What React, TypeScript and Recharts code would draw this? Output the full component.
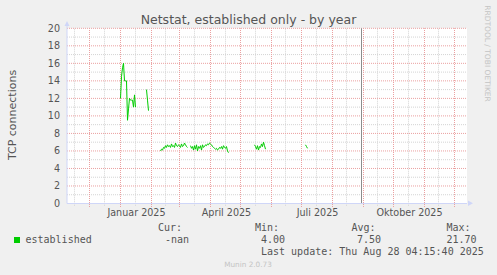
import React from 'react';
import { LineChart, Line, XAxis, YAxis, CartesianGrid, ReferenceLine } from 'recharts';

// daily "established" connection counts, one array per run of data (gaps = no data)
const seg1Start = '2025-01-01';
const seg1Values = [12, 14.5, 15.5, 16, 14, 14, 14, 9.5, 10.8, 12, 11.8, 11.8, 11.8, 11, 12.4, 11];
const seg2Start = '2025-01-27';
const seg2Values = [13, 11.8, 10.6];
const seg3Start = '2025-02-10';
const seg3Values = [
  6.0, 6.2, 6.1, 6.4, 6.3, 6.6, 6.4, 6.7, 6.5, 6.6,
  6.4, 6.8, 6.5, 6.6, 6.4, 6.9, 6.6, 6.5, 6.7, 6.6,
  6.4, 6.8, 6.5, 6.6, 6.9, 6.7, 6.5, 6.4,
];
const seg4Start = '2025-03-12';
const seg4Values = [
  6.6, 6.3, 6.5, 6.1, 6.6, 6.2, 6.7, 6.0, 6.5, 6.3,
  6.6, 6.1, 6.7, 6.4, 6.5, 6.7, 6.6, 6.8, 6.7, 6.9,
  6.8, 6.7, 6.5, 6.4, 6.3, 6.2, 6.3, 6.1, 6.2, 6.4,
  6.3, 6.5, 6.2, 6.6, 6.4, 6.3, 6.5, 6.0, 5.8,
];
const seg5Start = '2025-05-15';
const seg5Values = [6.7, 6.5, 6.2, 6.6, 6.1, 6.5, 6.4, 6.8, 6.5, 7.0, 6.6, 6.2];
const seg6Start = '2025-07-05';
const seg6Values = [6.7, 6.5, 6.3];

const nowMarker = '2025-08-30';

const yMajor = [0, 2, 4, 6, 8, 10, 12, 14, 16, 18, 20];
const yMinor = [1, 3, 5, 7, 9, 11, 13, 15, 17, 19];

const monthStarts = [
  '2024-12-01', '2025-01-01', '2025-02-01', '2025-03-01', '2025-04-01', '2025-05-01', '2025-06-01',
  '2025-07-01', '2025-08-01', '2025-09-01', '2025-10-01', '2025-11-01', '2025-12-01',
];
const midMonths = [
  '2024-11-16', '2024-12-16', '2025-01-16', '2025-02-15', '2025-03-16', '2025-04-16', '2025-05-16',
  '2025-06-15', '2025-07-16', '2025-08-15', '2025-09-15', '2025-10-16', '2025-11-15',
];
const xLabelDates = ['2025-01-17', '2025-04-17', '2025-07-17', '2025-10-17'];
const xLabels = ['Januar 2025', 'April 2025', 'Juli 2025', 'Oktober 2025'];

const legendHeaders = ['Cur:', 'Min:', 'Avg:', 'Max:'];
const legendValues = ['-nan', '4.00', '7.50', '21.70'];

const DAY_MS = 86400000;
const dayOf = (iso: string) => (Date.parse(iso) - Date.parse('2025-01-01')) / DAY_MS;

const segments: [string, number[]][] = [
  [seg1Start, seg1Values],
  [seg2Start, seg2Values],
  [seg3Start, seg3Values],
  [seg4Start, seg4Values],
  [seg5Start, seg5Values],
  [seg6Start, seg6Values],
];

const data: { day: number; v: number | null }[] = [];
segments.forEach(([start, values]) => {
  const d0 = dayOf(start);
  values.forEach((v, i) => data.push({ day: d0 + i, v }));
  data.push({ day: d0 + values.length, v: null });
});

const labelByDay = new Map(xLabelDates.map((d, i) => [dayOf(d), xLabels[i]]));

const W = 497;
const H = 275;
const PLOT_LEFT = 67;
const PLOT_RIGHT = 467;
const PLOT_TOP = 28.3;
const PLOT_BOTTOM = 203.5;
const X_AXIS_H = 20;

const FONT = '"DejaVu Sans", Verdana, sans-serif';
const MONO = '"DejaVu Sans Mono", monospace';
const AXIS = '#CFD6F8';
const TEXT = '#555';
const MGRID = '#eba0a0';
const GRID = '#d4d4d4';

const legendHeaderX = [158, 255, 351.5, 446.5];
const legendValueX = [165, 261, 357, 446.5];

export default function App() {
  return (
    <div style={{ position: 'absolute', left: 0, top: 0, width: W, height: H, background: '#F0F0F0' }}>
      <LineChart
        width={W}
        height={H}
        data={data}
        margin={{ top: PLOT_TOP, right: W - PLOT_RIGHT, left: 0, bottom: H - PLOT_BOTTOM - X_AXIS_H }}
      >
        <CartesianGrid fill="#FFFFFF" stroke="none" horizontal={false} vertical={false} />
        {yMinor.map((y) => (
          <ReferenceLine key={'ym' + y} y={y} stroke={GRID} strokeDasharray="1 1" />
        ))}
        {midMonths.map((d) => (
          <ReferenceLine
            key={'xm' + d}
            segment={[{ x: dayOf(d), y: -0.25 }, { x: dayOf(d), y: 20 }]}
            ifOverflow="visible"
            stroke={GRID}
            strokeDasharray="1 1"
          />
        ))}
        {yMajor.slice(1).map((y) => (
          <ReferenceLine key={'yM' + y} y={y} stroke={MGRID} strokeDasharray="1 1" />
        ))}
        {monthStarts.map((d) => (
          <ReferenceLine
            key={'xM' + d}
            segment={[{ x: dayOf(d), y: -0.4 }, { x: dayOf(d), y: 20 }]}
            ifOverflow="visible"
            stroke={MGRID}
            strokeDasharray="1 1"
          />
        ))}
        <XAxis
          type="number"
          dataKey="day"
          domain={[-53.5, 346.5]}
          allowDataOverflow
          ticks={xLabelDates.map(dayOf)}
          interval={0}
          tickFormatter={(d: number) => labelByDay.get(d) ?? ''}
          height={X_AXIS_H}
          axisLine={{ stroke: AXIS }}
          tickLine={false}
          tickSize={0}
          tickMargin={5.5}
          tick={{ fill: TEXT, fontSize: 9.6, fontFamily: FONT }}
        />
        <YAxis
          type="number"
          domain={[0, 20]}
          ticks={yMajor}
          interval={0}
          width={PLOT_LEFT}
          axisLine={{ stroke: AXIS }}
          tickLine={false}
          tickSize={0}
          tickMargin={7}
          tick={{ fill: TEXT, fontSize: 9.6, fontFamily: FONT }}
        />
        <ReferenceLine x={dayOf(nowMarker)} stroke="#8c8c8c" />
        <Line
          type="linear"
          dataKey="v"
          stroke="#00CC00"
          strokeWidth={1}
          dot={false}
          connectNulls={false}
          isAnimationActive={false}
        />
      </LineChart>
      <svg
        width={W}
        height={H}
        style={{ position: 'absolute', left: 0, top: 0, pointerEvents: 'none' }}
      >
        {/* axis arrows */}
        <line x1={PLOT_LEFT} y1={26} x2={PLOT_LEFT} y2={PLOT_TOP} stroke={AXIS} />
        <polygon points={`${PLOT_LEFT - 2.5},26 ${PLOT_LEFT + 2.5},26 ${PLOT_LEFT},21`} fill={AXIS} />
        <polygon points={`${PLOT_RIGHT + 1},200.5 ${PLOT_RIGHT + 1},206 ${PLOT_RIGHT + 6},203.3`} fill={AXIS} />

        <text x={W / 2} y={24} textAnchor="middle" fontFamily={FONT} fontSize={12.5} fill={TEXT}>
          Netstat, established only - by year
        </text>
        <text
          x={15.5}
          y={115}
          transform="rotate(-90 15.5 115)"
          textAnchor="middle"
          fontFamily={FONT}
          fontSize={11}
          fill={TEXT}
        >
          TCP connections
        </text>
        <text
          x={485}
          y={53.5}
          transform="rotate(90 485 53.5)"
          textAnchor="middle"
          fontFamily={FONT}
          fontSize={7.5}
          fill="#c4c4c4"
        >
          RRDTOOL / TOBI OETIKER
        </text>

        {/* legend */}
        {legendHeaders.map((h, i) => (
          <text key={h} x={legendHeaderX[i]} y={230.7} fontFamily={MONO} fontSize={10} fill={TEXT}>
            {h}
          </text>
        ))}
        <rect x={14} y={237} width={6} height={6} fill="#00CC00" />
        <text x={25.5} y={242.7} fontFamily={MONO} fontSize={10} fill={TEXT}>
          established
        </text>
        {legendValues.map((v, i) => (
          <text key={i} x={legendValueX[i]} y={242.7} fontFamily={MONO} fontSize={10} fill={TEXT}>
            {v}
          </text>
        ))}
        <text x={261} y={255} fontFamily={MONO} fontSize={10} fill={TEXT}>
          Last update: Thu Aug 28 04:15:40 2025
        </text>
        <text x={248} y={266.7} textAnchor="middle" fontFamily={FONT} fontSize={7.3} fill="#c4c4c4">
          Munin 2.0.73
        </text>
      </svg>
    </div>
  );
}
